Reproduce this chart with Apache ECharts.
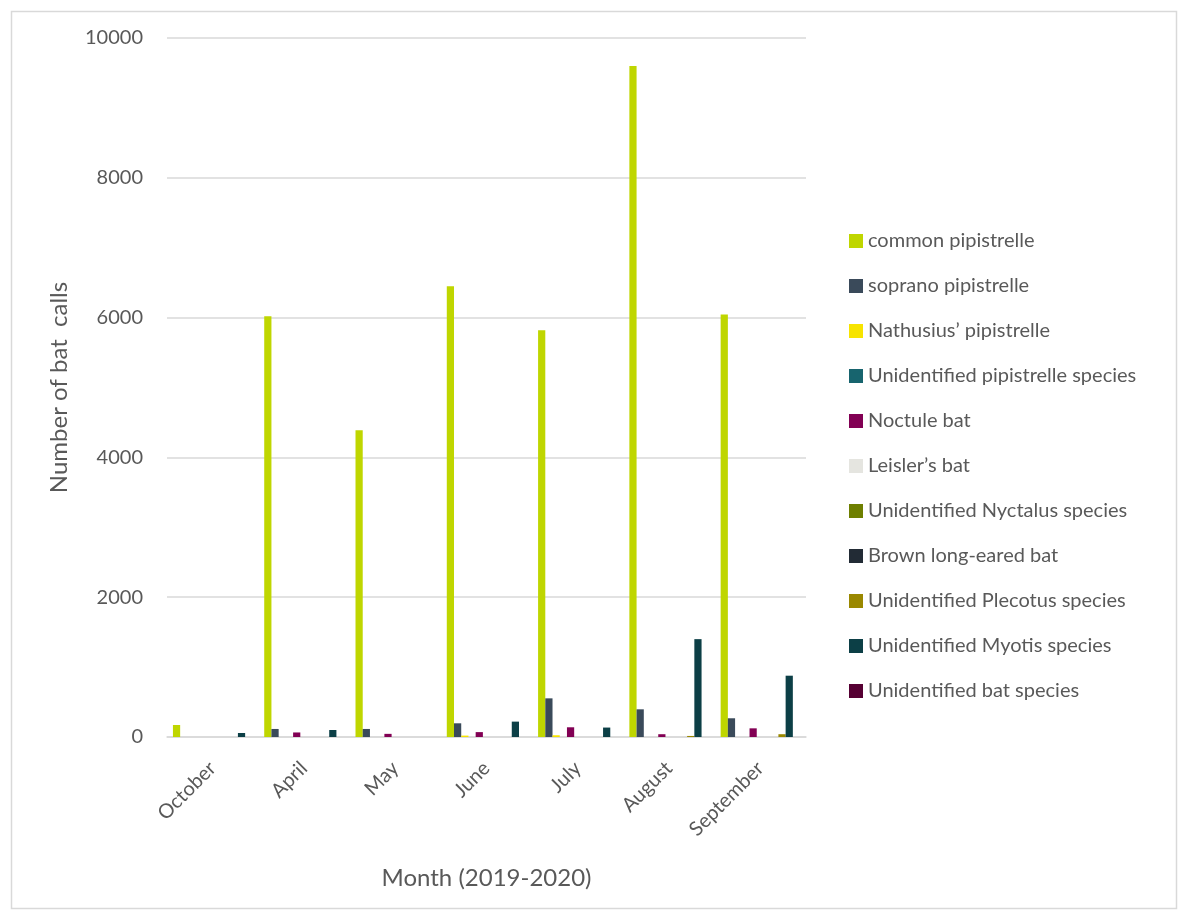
<!DOCTYPE html>
<html>
<head>
<meta charset="utf-8">
<title>Bat calls by month</title>
<script src="https://cdn.jsdelivr.net/npm/echarts@6/dist/echarts.min.js"></script>
<style>
  html, body { margin: 0; padding: 0; background: #ffffff; }
  #chart { width: 1183px; height: 915px; }
</style>
</head>
<body>
<div id="chart"></div>
<script>
// Months surveyed
const months = ['October', 'April', 'May', 'June', 'July', 'August', 'September'];

// Species names (legend order)
const speciesNames = [
  'common pipistrelle',
  'soprano pipistrelle',
  'Nathusius\u2019 pipistrelle',
  'Unidentified pipistrelle species',
  'Noctule bat',
  'Leisler\u2019s bat',
  'Unidentified Nyctalus species',
  'Brown long-eared bat',
  'Unidentified Plecotus species',
  'Unidentified Myotis species',
  'Unidentified bat species'
];

// Number of calls per month for each species
const commonPipistrelle      = [172, 6020, 4390, 6450, 5820, 9600, 6045];
const sopranoPipistrelle     = [0, 115, 115, 196, 553, 396, 268];
const nathusiusPipistrelle   = [0, 0, 0, 20, 25, 0, 0];
const unidPipistrelle        = [0, 0, 0, 0, 0, 0, 0];
const noctuleBat             = [0, 65, 45, 70, 139, 40, 124];
const leislersBat            = [0, 0, 0, 0, 0, 0, 0];
const unidNyctalus           = [0, 0, 0, 0, 0, 0, 0];
const brownLongEared         = [0, 0, 0, 0, 0, 0, 0];
const unidPlecotus           = [0, 0, 0, 0, 0, 15, 40];
const unidMyotis             = [57, 100, 0, 220, 135, 1400, 877];
const unidBat                = [0, 0, 0, 0, 0, 0, 0];

// Value axis ticks
const yTicks = [0, 2000, 4000, 6000, 8000, 10000];

const seriesValues = [
  commonPipistrelle, sopranoPipistrelle, nathusiusPipistrelle, unidPipistrelle,
  noctuleBat, leislersBat, unidNyctalus, brownLongEared, unidPlecotus,
  unidMyotis, unidBat
];

const palette = [
  '#BFD600', '#3A4A5A', '#F7E400', '#17646E', '#820054', '#E5E5E0',
  '#6E7F00', '#222B35', '#9A8800', '#0C3F46', '#560033'
];

const FONT = 'Lato, "Open Sans", sans-serif';
const TEXT_COLOR = '#595959';

const chart = echarts.init(document.getElementById('chart'), null, { renderer: 'canvas' });

chart.setOption({
  backgroundColor: '#ffffff',
  animation: false,
  color: palette,
  textStyle: { fontFamily: FONT },
  graphic: [{
    type: 'rect',
    left: 9, top: 9,
    shape: { width: 1165, height: 897 },
    style: { fill: 'none', stroke: '#d9d9d9', lineWidth: 1.5 },
    silent: true
  }],
  grid: { left: 167, right: 377, top: 38, bottom: 178 },
  legend: {
    orient: 'vertical',
    left: 844,
    top: 226,
    itemWidth: 14,
    itemHeight: 14,
    itemGap: 25,
    icon: 'rect',
    textStyle: { fontFamily: FONT, fontSize: 20, color: TEXT_COLOR, lineHeight: 20 },
    data: speciesNames
  },
  xAxis: {
    type: 'category',
    data: months,
    name: 'Month (2019-2020)',
    nameLocation: 'middle',
    nameGap: 129,
    nameTextStyle: { fontFamily: FONT, fontSize: 24, color: TEXT_COLOR },
    axisLine: { lineStyle: { color: '#d9d9d9', width: 1.5 } },
    axisTick: { show: false },
    axisLabel: {
      rotate: 45,
      margin: 28,
      fontFamily: FONT,
      fontSize: 20,
      color: TEXT_COLOR
    }
  },
  yAxis: {
    type: 'value',
    min: yTicks[0],
    max: yTicks[yTicks.length - 1],
    interval: yTicks[1] - yTicks[0],
    name: 'Number of bat  calls',
    nameLocation: 'middle',
    nameRotate: 90,
    nameGap: 96,
    nameTextStyle: { fontFamily: FONT, fontSize: 24, color: TEXT_COLOR },
    axisLine: { show: false },
    axisTick: { show: false },
    axisLabel: {
      margin: 24,
      fontFamily: FONT,
      fontSize: 20,
      color: TEXT_COLOR,
      formatter: (v) => String(v)
    },
    splitLine: { lineStyle: { color: '#d9d9d9', width: 1.5 } }
  },
  series: speciesNames.map((name, i) => ({
    name: name,
    type: 'bar',
    data: seriesValues[i],
    barGap: '0%',
    barCategoryGap: '13%'
  }))
});
</script>
</body>
</html>
